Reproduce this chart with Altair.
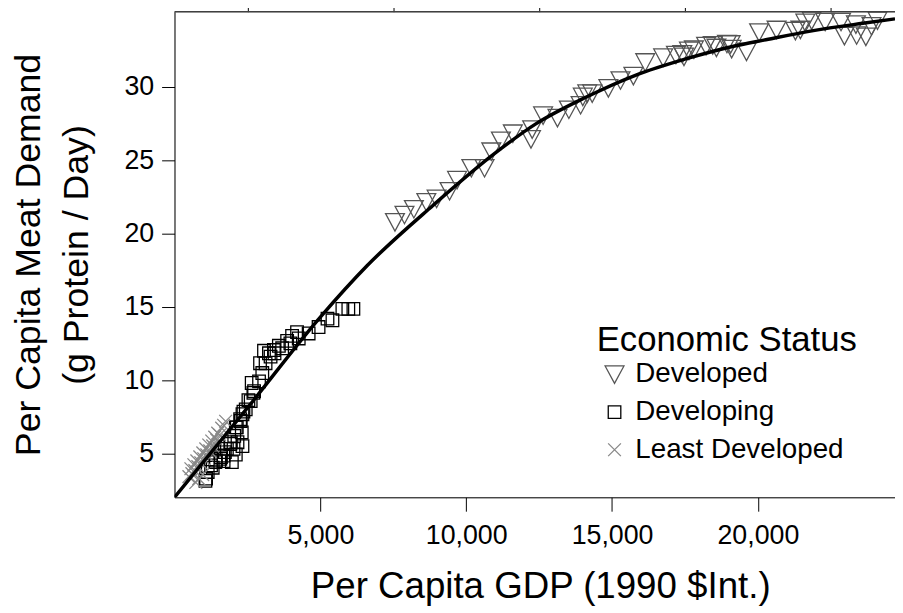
import altair as alt
import pandas as pd

# ---------------- data ----------------
dev_gdp = [7558, 7884, 8207, 8633, 8986, 9429, 9687, 10177, 10629, 10860, 11190, 11599,
           12262, 12221, 12636, 13129, 13520, 13922, 13997, 14150, 14320, 14874, 15289,
           15731, 16138, 16752, 17190, 17408, 17636, 17466, 17806, 18224, 18452, 18578,
           18939, 19100, 19065, 19609, 20041, 20640, 21286, 21456, 21626, 21843, 22306,
           22850, 22966, 23360, 23384, 23701, 23895, 24099]
dev_meat = [20.78, 21.28, 21.67, 22.15, 22.38, 22.9, 23.66, 24.47, 24.47, 25.6, 26.34, 26.83,
            27.11, 26.44, 28.06, 27.89, 28.46, 28.77, 29.34, 29.56, 29.56, 29.92, 30.46,
            30.76, 31.69, 32.02, 32.2, 32.25, 32.48, 32.07, 32.56, 32.81, 32.86, 32.68,
            32.95, 32.6, 32.92, 32.41, 33.73, 33.91, 33.83, 33.91, 34.39, 34.54, 34.45,
            34.45, 33.49, 34.27, 33.53, 33.44, 34.16, 34.54]

dvg_gdp = [6133, 5959, 5755, 5245, 5415, 4939, 4599, 4259, 4201, 4031, 3861, 3973, 3690,
           3578, 3429, 3408, 3293, 3238, 3068, 3122, 2932, 3010, 2898, 2646, 2728, 2704,
           2612, 2534, 2442, 2364, 2330, 2272, 2251, 2102, 2136, 2048, 2306, 2160, 2024,
           1932, 1912, 1796, 1728, 1684, 1684, 1592, 1571, 1422, 1401, 1252, 1310, 1139,
           1082, 1061, 1966, 2102, 2330]
dvg_meat = [14.86, 14.86, 14.86, 14.19, 14.08, 13.62, 13.18, 12.84, 13.27, 13.02, 12.68,
            12.5, 12.17, 12.34, 11.83, 12.05, 11.6, 11.83, 12.0, 11.15, 11.15, 10.48, 9.91,
            9.8, 9.24, 9.13, 8.56, 8.63, 8.0, 7.85, 7.67, 7.21, 7.33, 6.77, 6.77, 6.2, 6.43,
            5.76, 5.3, 5.76, 5.64, 5.3, 5.08, 4.85, 4.47, 4.74, 4.63, 4.51, 4.4, 4.18, 4.02,
            3.73, 3.28, 3.12, 4.4, 4.92, 5.49]

ldc_gdp = [493, 561, 595, 663, 697, 765, 799, 867, 901, 969, 1003, 1071, 1105, 1173, 1207,
           1276, 1310, 1378, 1446, 1480, 1548, 1616, 1684, 1752, 833, 731, 969]
ldc_meat = [3.41, 3.95, 3.62, 4.22, 3.82, 4.49, 4.09, 4.76, 4.36, 5.03, 4.63, 5.3, 4.9, 5.57,
            5.17, 5.84, 5.51, 6.11, 5.91, 6.38, 6.25, 6.72, 6.92, 7.19, 3.28, 3.01, 3.55]

curve_gdp = [0, 2500, 5000, 6600, 8850, 11000, 12400, 14100, 15800, 17500, 19200, 20200,
             21900, 23600, 24700]
curve_meat = [2.0, 8.1, 14.3, 17.8, 21.9, 25.5, 27.5, 29.3, 30.8, 31.9, 32.8, 33.2, 33.85,
              34.35, 34.65]

status_order = ["Developed", "Developing", "Least Developed"]
x_major_ticks = [5000, 10000, 15000, 20000]
x_minor_ticks = [2500, 7500, 12500, 17500, 22500]
y_ticks = [5, 10, 15, 20, 25, 30]

# ---------------- tables ----------------
df = pd.DataFrame({
    "gdp": dev_gdp + dvg_gdp + ldc_gdp,
    "meat": dev_meat + dvg_meat + ldc_meat,
    "status": [status_order[0]] * len(dev_gdp) + [status_order[1]] * len(dvg_gdp)
              + [status_order[2]] * len(ldc_gdp),
})
curve_df = pd.DataFrame({"gdp": curve_gdp, "meat": curve_meat})

# ---------------- styling ----------------
FONT = "Liberation Sans"
W, H = 727, 490
x_scale = alt.Scale(domain=[0, 24700], nice=False, zero=False)
y_scale = alt.Scale(domain=[2.0, 35.14], nice=False, zero=False)

shape_paths = ["M-1,-0.9L1,-0.9L0,0.95Z",
               "M-0.7,-0.7L0.7,-0.7L0.7,0.7L-0.7,0.7Z",
               "M-0.75,-0.75L0.75,0.75M-0.75,0.75L0.75,-0.75"]
colors = ["#555555", "#000000", "#888888"]
sizes = [361, 294, 260]

y_axis = alt.Axis(values=y_ticks, tickSize=13, tickColor="black", domainColor="black",
                  labelFontSize=27, labelPadding=8, labelColor="black", labelFont=FONT,
                  grid=False, title=["Per Capita Meat Demand", "(g Protein / Day)"],
                  titleFontSize=36, titleFont=FONT, titleFontWeight="normal",
                  titlePadding=29, titleLineHeight=48, titleColor="black")

x_major = alt.Axis(values=x_major_ticks, labelExpr="format(datum.value, ',.0f')",
                   tickSize=14, tickColor="black",
                   domainColor="black", labelFontSize=27, labelPadding=12,
                   labelColor="black", labelFont=FONT, labelOverlap=False, grid=False,
                   title="Per Capita GDP (1990 $Int.)", titleFontSize=37, titleFont=FONT,
                   titleFontWeight="normal", titlePadding=20, titleColor="black",
                   titleX=369)

x_minor = alt.Axis(values=x_minor_ticks, tickSize=7, tickColor="black", labels=False,
                   domain=False, grid=False, title=None)

legend = alt.Legend(title="Economic Status", orient="none", legendX=426, legendY=314,
                    titleFontSize=35, titleFont=FONT, titleFontWeight="normal",
                    titleColor="black", titlePadding=3, titleLimit=600,
                    labelFontSize=28, labelFont=FONT, labelLimit=600,
                    labelColor="black", symbolSize=620, symbolStrokeWidth=1.3,
                    symbolOffset=4, labelOffset=7, rowPadding=10, padding=0)

points = alt.Chart(df).mark_point(filled=False, strokeWidth=1.3, opacity=1, clip=True).encode(
    x=alt.X("gdp:Q", scale=x_scale, axis=x_major),
    y=alt.Y("meat:Q", scale=y_scale, axis=y_axis),
    shape=alt.Shape("status:N", scale=alt.Scale(domain=status_order, range=shape_paths),
                    legend=legend),
    color=alt.Color("status:N", scale=alt.Scale(domain=status_order, range=colors),
                    legend=legend),
    size=alt.Size("status:O", scale=alt.Scale(domain=status_order, range=sizes), legend=None),
)

line = alt.Chart(curve_df).mark_line(color="black", strokeWidth=3.5, interpolate="monotone",
                                     clip=True).encode(
    x=alt.X("gdp:Q", scale=x_scale, axis=x_minor),
    y=alt.Y("meat:Q", scale=y_scale, axis=y_axis),
)

border = alt.Chart(pd.DataFrame({"k": [0]})).mark_rule(color="#404040", strokeWidth=1.5).encode(
    x=alt.value(0), x2=alt.value(W), y=alt.value(0)
)

chart = alt.layer(points, line, border).resolve_axis(x="independent").properties(
    width=W, height=H,
    padding={"left": 168, "top": 1, "right": 0, "bottom": 112},
    autosize=alt.AutoSizeParams(type="none"),
).configure_view(strokeWidth=0).configure(font=FONT)

chart.save("out.html", embed_options={"renderer": "svg", "actions": False})
